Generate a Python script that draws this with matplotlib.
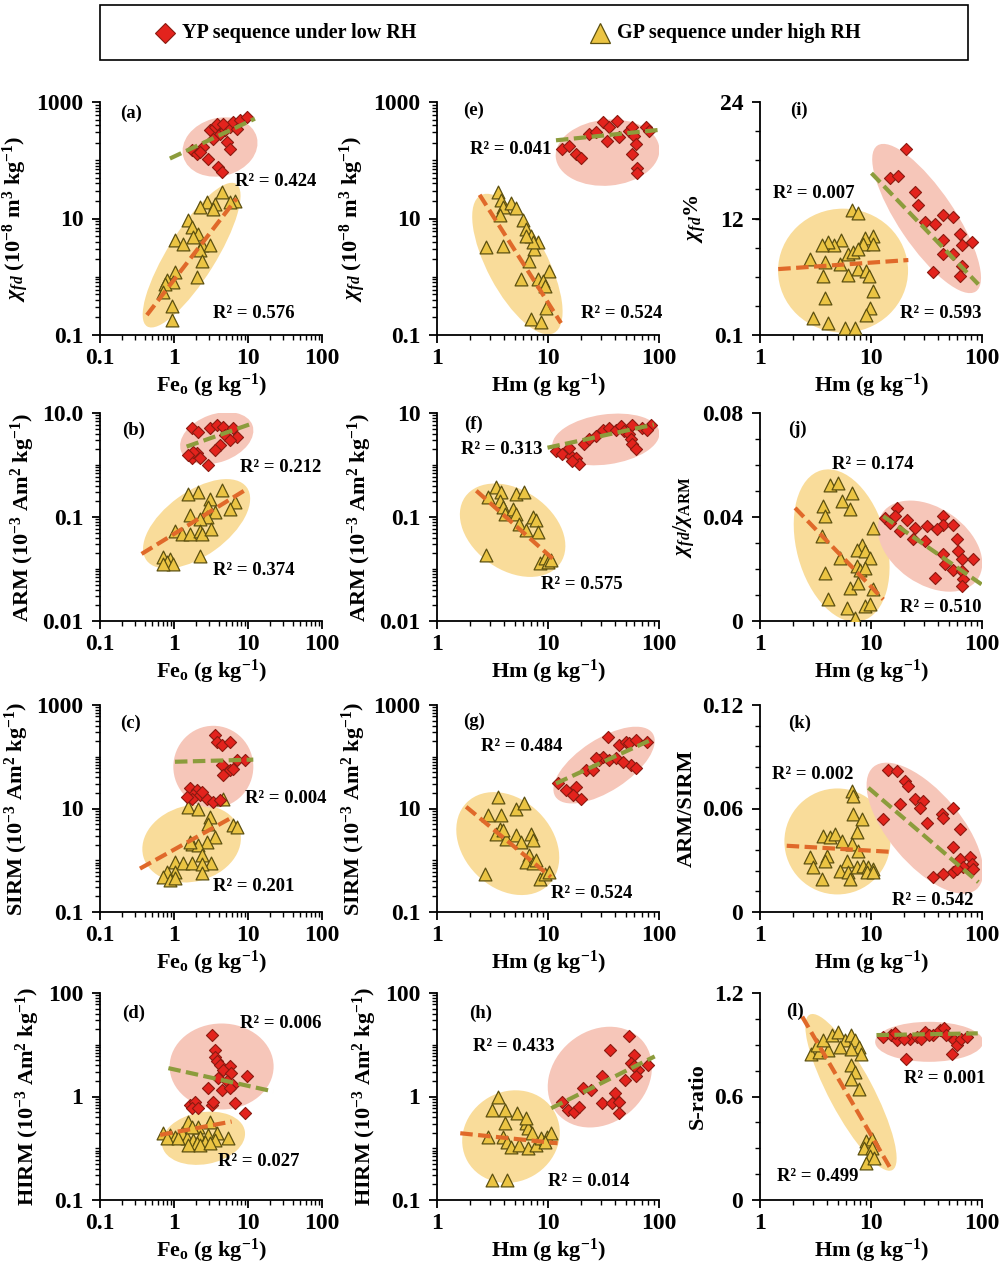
"""
plot.py

Twelve-panel scatter comparison of magnetic parameters vs Fe oxides
for the YP (low RH) and GP (high RH) sequences.
Writes out.png.
"""

import matplotlib
matplotlib.use("Agg")
import matplotlib.pyplot as plt
import matplotlib.transforms as mtransforms
import numpy as np
from matplotlib.lines import Line2D
from matplotlib.patches import Ellipse, Rectangle
from matplotlib.ticker import FixedLocator, FixedFormatter, LogLocator, NullFormatter

plt.rcParams["font.family"] = ["Liberation Serif", "DejaVu Serif"]
plt.rcParams["font.weight"] = "bold"
plt.rcParams["axes.labelweight"] = "bold"
plt.rcParams["mathtext.fontset"] = "custom"
plt.rcParams["mathtext.rm"] = "Liberation Serif:bold"
plt.rcParams["mathtext.it"] = "Liberation Serif:italic:bold"
plt.rcParams["mathtext.bf"] = "Liberation Serif:bold"

# ---------------------------------------------------------------- data
# (a) chi_fd vs Feo
a_yp_x = [1.73, 2.02, 2.91, 3.97, 4.4, 3.06, 3.58, 3.78, 4.2, 4.9, 5.7, 6.3, 7.8, 9.6, 5.2, 5.7, 3.4, 2.5, 2.24, 4.65, 7.0]
a_yp_y = [148, 130, 107, 77, 63, 327, 373, 425, 286, 327, 373, 454, 485, 553, 206, 158, 235, 169, 139, 425, 349]
a_gp_x = [4.4, 2.76, 3.58, 6.7, 5.7, 2.24, 3.4, 1.56, 1.73, 2.13, 1.82, 1.03, 1.34, 2.37, 3.06, 2.24, 2.37, 2.02, 1.03, 0.80, 0.98, 0.76, 0.72, 0.93, 0.93]
a_gp_y = [28, 19.3, 18, 20, 19.3, 15.8, 14.8, 9.4, 7.2, 5.5, 4.9, 4.3, 3.7, 3.5, 3.5, 2.9, 1.9, 1.0, 1.2, 0.88, 0.82, 0.76, 0.55, 0.31, 0.18]
a_yp_fit = ([0.88, 12.4], [107, 518])
a_gp_fit = ([0.43, 7.0], [0.22, 22])
a_r2 = ("0.424", "0.576")

# (b) ARM vs Feo
b_yp_x = [1.73, 2.13, 3.06, 3.78, 4.65, 4.9, 6.3, 7.0, 5.7, 4.2, 3.58, 2.02, 1.73, 2.24, 1.82, 2.91, 1.56]
b_yp_y = [5.1, 4.4, 5.1, 5.9, 5.5, 3.8, 5.1, 3.5, 3.05, 2.44, 1.95, 1.68, 1.35, 1.35, 1.81, 1.0, 1.56]
b_gp_x = [2.13, 1.56, 3.06, 4.4, 6.67, 5.7, 2.91, 3.58, 1.64, 2.76, 2.24, 1.03, 1.27, 1.64, 2.24, 2.37, 3.2, 0.72, 0.88, 0.80, 0.98, 2.24, 0.72]
b_gp_y = [0.305, 0.283, 0.226, 0.328, 0.195, 0.145, 0.156, 0.125, 0.108, 0.1, 0.093, 0.055, 0.0475, 0.0475, 0.055, 0.0475, 0.059, 0.0168, 0.0156, 0.0135, 0.0125, 0.018, 0.0125]
b_yp_fit = ([1.48, 11.8], [2.26, 6.4])
b_gp_fit = ([0.365, 9.1], [0.0195, 0.328])
b_r2 = ("0.212", "0.374")

# (c) SIRM vs Feo
c_yp_x = [3.58, 3.78, 4.4, 5.7, 7.0, 9.1, 4.4, 5.7, 4.65, 6.3, 1.64, 2.02, 1.82, 2.24, 2.76, 1.73, 3.4, 4.2, 2.37, 1.48]
c_yp_y = [262, 195, 168, 195, 86, 86, 69, 55, 44, 59, 24.4, 22.6, 18.1, 18.1, 15.6, 15.6, 13.5, 14.5, 21, 16.8]
c_gp_x = [4.64, 1.56, 2.13, 3.06, 2.91, 6.34, 7.0, 3.58, 2.76, 1.73, 2.13, 1.64, 2.37, 1.03, 1.34, 1.73, 3.2, 2.37, 1.03, 2.37, 0.8, 0.72, 0.88, 1.03]
c_gp_y = [15.6, 10.8, 10, 6.9, 5.1, 4.75, 4.4, 2.83, 2.26, 2.1, 1.95, 2.26, 1.25, 0.93, 0.9, 0.87, 0.87, 0.84, 0.59, 0.56, 0.59, 0.48, 0.41, 0.45]
c_yp_fit = ([1.03, 11.8], [80, 88])
c_gp_fit = ([0.347, 5.7], [0.69, 6.4])
c_r2 = ("0.004", "0.201")

# (d) HIRM vs Feo
d_yp_x = [3.24, 3.58, 3.58, 3.78, 4.2, 5.7, 4.65, 5.9, 3.97, 5.2, 6.3, 9.6, 2.91, 4.4, 5.7, 6.67, 9.1, 1.64, 1.93, 1.73, 3.24, 3.4, 2.13]
d_yp_y = [15.6, 8.0, 5.9, 4.75, 4.1, 3.8, 3.28, 2.83, 2.26, 1.95, 1.68, 2.44, 1.45, 1.35, 1.45, 0.74, 0.475, 0.69, 0.8, 0.594, 0.69, 0.8, 0.594]
d_gp_x = [1.56, 3.06, 2.13, 0.72, 0.88, 1.03, 0.80, 1.27, 1.48, 1.82, 2.24, 2.91, 3.78, 5.4, 3.58, 2.6, 2.02, 1.56, 2.24, 3.06, 1.73, 1.15]
d_gp_y = [0.328, 0.328, 0.262, 0.195, 0.181, 0.168, 0.156, 0.195, 0.156, 0.145, 0.168, 0.181, 0.195, 0.156, 0.145, 0.135, 0.125, 0.116, 0.116, 0.125, 0.262, 0.156]
d_yp_fit = ([0.84, 22], [3.53, 1.25])
d_gp_fit = ([0.65, 6.0], [0.181, 0.328])
d_r2 = ("0.006", "0.027")

# (e) chi_fd vs Hm
e_yp_x = [13.5, 15.5, 17.8, 19.8, 23.5, 27, 31, 35.6, 42, 34, 43.7, 53.8, 57.6, 59.6, 61.7, 57.6, 63.9, 64, 76, 81]
e_yp_y = [154, 176, 126, 110, 281, 300, 449, 367, 480, 215, 246, 321, 367, 263, 188, 126, 74, 61, 367, 321]
e_gp_x = [3.53, 3.78, 3.9, 3.7, 4.65, 5.2, 5.9, 6.3, 7.0, 8.1, 7.5, 6.8, 5.7, 8.1, 10.3, 9.0, 9.3, 9.6, 7.0, 8.65, 2.77, 3.9, 7.3, 6.3]
e_gp_y = [29, 20.8, 16, 11.4, 18.2, 14.9, 9.4, 6.7, 5.1, 3.9, 3.0, 1.9, 0.91, 0.91, 1.26, 0.85, 0.69, 0.29, 0.19, 0.17, 3.2, 3.4, 3.9, 5.1]
e_yp_fit = ([11.8, 97], [220, 330])
e_gp_fit = ([2.42, 13.1], [25.5, 0.16])
e_r2 = ("0.041", "0.524")

# (f) ARM vs Hm
f_yp_x = [11.8, 13.5, 16.1, 17.8, 19.1, 16.6, 15.5, 21.2, 23.5, 27, 31, 35.6, 40.8, 45.3, 48.5, 53.8, 57.6, 55.7, 57.6, 61.7, 70.8, 84, 78.5]
f_yp_y = [1.86, 1.61, 1.5, 1.39, 1.04, 1.2, 2.15, 2.5, 3.1, 3.6, 4.8, 5.2, 4.8, 5.6, 4.5, 3.9, 6.0, 3.1, 2.5, 2.0, 5.2, 6.0, 4.8]
f_gp_x = [3.41, 2.87, 3.78, 5.16, 6.1, 3.66, 3.92, 4.06, 4.8, 5.16, 7.3, 7.8, 5.53, 6.35, 8.07, 2.77, 8.4, 9.3, 9.9, 10.6]
f_gp_y = [0.373, 0.24, 0.3, 0.278, 0.3, 0.207, 0.155, 0.116, 0.144, 0.116, 0.1, 0.0865, 0.0747, 0.0557, 0.0518, 0.0186, 0.0129, 0.0161, 0.0139, 0.015]
f_yp_fit = ([9.9, 90], [2.15, 6.0])
f_gp_fit = ([2.26, 11.8], [0.32, 0.0139])
f_r2 = ("0.313", "0.575")

# (g) SIRM vs Hm
g_yp_x = [12.2, 14.5, 17.8, 16.7, 19.8, 21.9, 25.2, 28.9, 31, 35.6, 40.8, 34.4, 43.7, 50.2, 53.8, 61.7, 78.5, 55.7, 61.7, 46.9, 27]
g_yp_y = [30.5, 22.6, 26, 18.1, 15.6, 55, 55, 86, 100, 86, 95, 244, 168, 195, 181, 210, 195, 69, 60, 80, 93]
g_gp_x = [3.53, 2.87, 3.78, 5.16, 6.13, 3.66, 3.41, 4.2, 3.92, 5.16, 5.7, 7.0, 7.3, 6.8, 6.35, 7.3, 7.8, 2.68, 8.4, 9.3, 10.3]
g_gp_y = [16.8, 7.4, 7.4, 10, 12.5, 4.1, 3.28, 2.62, 3.8, 3.05, 2.27, 3.28, 2.44, 1.25, 0.93, 0.87, 1.0, 0.55, 0.44, 0.55, 0.58]
g_yp_fit = ([11.8, 84], [30.5, 210])
g_gp_fit = ([1.83, 10.6], [10.8, 0.475])
g_r2 = ("0.484", "0.524")

# (h) HIRM vs Hm
h_yp_x = [13.3, 15.2, 17.3, 18.9, 20.6, 24.6, 30.6, 36.5, 39.8, 30.6, 38.1, 43.5, 43.5, 54, 59, 56.5, 64.5, 61.7, 49.5, 80, 59]
h_yp_y = [0.8, 0.55, 0.51, 0.64, 1.45, 1.35, 2.44, 8.0, 1.16, 0.74, 0.74, 0.8, 0.475, 14.5, 6.4, 4.4, 3.28, 2.44, 2.1, 4.1, 3.8]
h_gp_x = [3.57, 3.13, 4.07, 5.3, 4.07, 2.87, 3.9, 4.26, 4.64, 5.53, 6.3, 6.6, 7.2, 6.6, 7.86, 8.6, 9.8, 10.7, 9.4, 3.13, 4.26, 6.3]
h_gp_y = [1.0, 0.55, 0.55, 0.475, 0.305, 0.168, 0.168, 0.135, 0.108, 0.116, 0.305, 0.244, 0.195, 0.1, 0.116, 0.156, 0.168, 0.195, 0.135, 0.0244, 0.0244, 0.381]
h_yp_fit = ([10.7, 91.5], [0.594, 5.95])
h_gp_fit = ([1.62, 12.2], [0.195, 0.125])
h_r2 = ("0.433", "0.014")

# (i) chi_fd% vs Hm
i_yp_x = [20.7, 14.8, 17.6, 24.9, 26.7, 30.6, 37.7, 44.9, 55.2, 63.4, 44.9, 80.7, 44.9, 55.2, 65.6, 65.6, 63.4, 36.4]
i_yp_y = [19.15, 16.2, 16.4, 14.8, 13.4, 11.7, 11.5, 12.4, 12.2, 10.5, 9.8, 9.6, 8.4, 8.4, 9.3, 7.2, 6.16, 6.6]
i_gp_x = [6.7, 7.7, 10.5, 8.8, 8.5, 10.5, 5.4, 4.6, 4.1, 3.6, 6.25, 6.9, 7.7, 2.8, 3.85, 3.7, 6.25, 7.7, 9.1, 9.5, 5.3, 10.5, 3.85, 9.8, 9.1, 3.0, 4.1, 5.8, 7.2]
i_gp_y = [12.9, 12.57, 10.3, 10.0, 9.45, 9.45, 9.8, 9.3, 9.6, 9.3, 8.4, 8.6, 8.9, 7.9, 7.55, 6.16, 6.3, 6.85, 6.7, 6.16, 7.4, 4.6, 3.9, 2.87, 2.18, 1.83, 1.31, 0.79, 0.79]
i_yp_fit = ([10.1, 92.7], [16.7, 5.3])
i_gp_fit = ([1.46, 21.7], [6.86, 7.79])
i_r2 = ("0.593", "0.007")

# (j) chi_fd/chi_ARM vs Hm
j_yp_x = [13.4, 14.8, 17.0, 16.5, 18.2, 21, 24.9, 30.6, 31.7, 44.9, 44.9, 55.2, 39, 37.7, 44.9, 46.4, 55.2, 61.2, 65.6, 65.6, 67.9, 65.6, 83.5, 59, 24]
j_yp_y = [0.0397, 0.0378, 0.0435, 0.0403, 0.0346, 0.039, 0.0358, 0.0307, 0.0365, 0.0403, 0.0371, 0.0371, 0.0352, 0.0166, 0.0256, 0.0218, 0.0198, 0.0269, 0.0237, 0.0192, 0.016, 0.0134, 0.0237, 0.0314, 0.0314]
j_gp_x = [4.27, 5.08, 6.7, 5.44, 6.47, 3.72, 3.85, 3.59, 10.5, 8.24, 7.43, 8.83, 5.26, 9.8, 7.43, 7.96, 8.83, 3.85, 6.47, 7.69, 10.5, 4.13, 6.04, 8.83, 9.8, 7.18]
j_gp_y = [0.0525, 0.0531, 0.0493, 0.0461, 0.0429, 0.0442, 0.0403, 0.0326, 0.0358, 0.0294, 0.0275, 0.0269, 0.0243, 0.0243, 0.0211, 0.0198, 0.0205, 0.0186, 0.0128, 0.0147, 0.0122, 0.0083, 0.0051, 0.0058, 0.0064, 0.0013]
j_yp_fit = ([12.9, 99], [0.0403, 0.0141])
j_gp_fit = ([2.07, 12.9], [0.0435, 0.0083])
j_r2 = ("0.510", "0.174")

# (k) ARM/SIRM vs Hm
k_yp_x = [14.3, 17.0, 20.2, 21.7, 18.2, 24.9, 29.6, 27.6, 31.7, 43.3, 44.9, 55.2, 63.4, 55.2, 63.4, 78, 80.7, 67.9, 55.2, 44.9, 36.4, 59.2, 83.5, 12.9]
k_yp_y = [0.0826, 0.0816, 0.0758, 0.073, 0.0624, 0.0653, 0.0643, 0.0605, 0.0518, 0.0566, 0.0547, 0.0605, 0.048, 0.0374, 0.0307, 0.0317, 0.0278, 0.0259, 0.023, 0.022, 0.0202, 0.025, 0.025, 0.0538]
k_gp_x = [6.7, 6.93, 6.93, 8.24, 7.43, 3.72, 4.27, 4.74, 5.44, 6.7, 7.69, 2.82, 3.99, 3.85, 3.02, 6.04, 5.26, 6.25, 7.43, 8.53, 9.47, 10.5, 9.14, 6.47, 3.59, 10.5]
k_gp_y = [0.0701, 0.0672, 0.0566, 0.0538, 0.0461, 0.0442, 0.0432, 0.0451, 0.0413, 0.0394, 0.0355, 0.0317, 0.0326, 0.0298, 0.0259, 0.0298, 0.024, 0.023, 0.0259, 0.0269, 0.0259, 0.025, 0.023, 0.0192, 0.0192, 0.023]
k_yp_fit = ([9.47, 92.7], [0.072, 0.0173])
k_gp_fit = ([1.74, 14.8], [0.0384, 0.0349])
k_r2 = ("0.542", "0.002")

# (l) S-ratio vs Hm
l_yp_x = [12.7, 15.2, 17.3, 20.6, 22.5, 25.7, 30.6, 36.5, 41.6, 45.4, 47.4, 56.5, 59, 54, 64.5, 73.6, 28, 33, 16.6, 20]
l_yp_y = [0.946, 0.956, 0.927, 0.819, 0.936, 0.946, 0.976, 0.956, 0.985, 0.995, 0.956, 0.927, 0.897, 0.849, 0.936, 0.946, 0.936, 0.956, 0.966, 0.936]
l_gp_x = [2.87, 3.42, 4.07, 3.27, 3.73, 4.44, 5.07, 5.78, 6.6, 7.2, 7.86, 8.2, 6.6, 5.3, 6.6, 7.2, 6.6, 7.86, 8.96, 10.2, 8.58, 10.2, 9.78, 8.96, 10.6]
l_gp_y = [0.849, 0.858, 0.868, 0.897, 0.927, 0.956, 0.976, 0.927, 0.956, 0.927, 0.888, 0.849, 0.878, 0.888, 0.78, 0.741, 0.702, 0.644, 0.341, 0.351, 0.302, 0.302, 0.254, 0.215, 0.244]
l_yp_fit = ([11.2, 91.6], [0.956, 0.966])
l_gp_fit = ([2.4, 15.2], [1.063, 0.176])
l_r2 = ("0.001", "0.499")

legend_labels = ["YP sequence under low RH", "GP sequence under high RH"]

# ---------------------------------------------------------------- style
W, H, DPI = 1001, 1267, 100
YP_FACE, YP_EDGE = "#E3231D", "#8A1A10"
GP_FACE, GP_EDGE = "#EBC443", "#5C5010"
YP_ELL, GP_ELL = "#F6C6B9", "#F9DC9A"
YP_LINE, GP_LINE = "#8C9C3C", "#E0692A"

COL_LEFT = [100, 437, 760]
COL_W = 222
ROW_TOP = [102, 413, 705, 993]
ROW_BOT = [335, 621, 912, 1200]

UNIT3 = r" (10$^{-3}$ Am$^{2}$ kg$^{-1}$)"
CHI = r"$\chi_{fd}$"

LOG_A = ("log", 0.1, 1000, [0.1, 10, 1000], ["0.1", "10", "1000"])
LOG_D = ("log", 0.01, 100, [0.01, 1, 100], ["0.1", "1", "100"])

# panel layout: ellipses are (center x, center y, half axes in px, angle)
PANELS = [
    dict(tag="(a)", row=0, col=0, data=(a_yp_x, a_yp_y, a_gp_x, a_gp_y, a_yp_fit, a_gp_fit, a_r2),
         ylabel=CHI + r" (10$^{-8}$ m$^{3}$ kg$^{-1}$)", yax=LOG_A,
         ell_yp=(4.19, 169, 38, 29, 15), ell_gp=(1.73, 2.35, 84, 24, 58),
         txt_yp=(0.608, 0.657), txt_gp=(0.51, 0.093), tag_pos=(0.09, 0.95)),
    dict(tag="(b)", row=1, col=0, data=(b_yp_x, b_yp_y, b_gp_x, b_gp_y, b_yp_fit, b_gp_fit, b_r2),
         ylabel="ARM" + UNIT3, yax=("log", 0.001, 10, [0.001, 0.1, 10], ["0.01", "0.1", "10.0"]),
         ell_yp=(3.78, 3.28, 38, 24, 20), ell_gp=(2.02, 0.074, 62, 32, 36),
         txt_yp=(0.63, 0.739), txt_gp=(0.51, 0.242), tag_pos=(0.098, 0.919)),
    dict(tag="(c)", row=2, col=0, data=(c_yp_x, c_yp_y, c_gp_x, c_gp_y, c_yp_fit, c_gp_fit, c_r2),
         ylabel="SIRM" + UNIT3, yax=LOG_A,
         ell_yp=(3.4, 64, 40, 41, 0), ell_gp=(1.73, 2.1, 50, 38, 15),
         txt_yp=(0.653, 0.548), txt_gp=(0.51, 0.121), tag_pos=(0.09, 0.911)),
    dict(tag="(d)", row=3, col=0, data=(d_yp_x, d_yp_y, d_gp_x, d_gp_y, d_yp_fit, d_gp_fit, d_r2),
         ylabel="HIRM" + UNIT3, yax=LOG_D,
         ell_yp=(4.4, 3.8, 52, 43, 0), ell_gp=(2.5, 0.156, 42, 26, 10),
         txt_yp=(0.63, 0.855), txt_gp=(0.533, 0.185), tag_pos=(0.098, 0.903)),
    dict(tag="(e)", row=0, col=1, data=(e_yp_x, e_yp_y, e_gp_x, e_gp_y, e_yp_fit, e_gp_fit, e_r2),
         ylabel=CHI + r" (10$^{-8}$ m$^{3}$ kg$^{-1}$)", yax=LOG_A,
         ell_yp=(34.4, 135, 52, 33, 5), ell_gp=(5.3, 1.65, 78, 30, -62),
         txt_yp=(0.147, 0.797), txt_gp=(0.648, 0.094), tag_pos=(0.117, 0.964)),
    dict(tag="(f)", row=1, col=1, data=(f_yp_x, f_yp_y, f_gp_x, f_gp_y, f_yp_fit, f_gp_fit, f_r2),
         ylabel="ARM" + UNIT3, yax=("log", 0.001, 10, [0.001, 0.1, 10], ["0.01", "0.1", "10"]),
         ell_yp=(33.2, 3.1, 54, 25, 8), ell_gp=(4.8, 0.0557, 58, 40, -35),
         txt_yp=(0.109, 0.825), txt_gp=(0.469, 0.175), tag_pos=(0.124, 0.944)),
    dict(tag="(g)", row=2, col=1, data=(g_yp_x, g_yp_y, g_gp_x, g_gp_y, g_yp_fit, g_gp_fit, g_r2),
         ylabel="SIRM" + UNIT3, yax=LOG_A,
         ell_yp=(32, 69, 58, 26, 33), ell_gp=(4.34, 2.1, 58, 44, -45),
         txt_yp=(0.199, 0.798), txt_gp=(0.513, 0.089), tag_pos=(0.117, 0.919)),
    dict(tag="(h)", row=3, col=1, data=(h_yp_x, h_yp_y, h_gp_x, h_gp_y, h_yp_fit, h_gp_fit, h_r2),
         ylabel="HIRM" + UNIT3, yax=LOG_D,
         ell_yp=(29.3, 2.37, 56, 46, 40), ell_gp=(4.64, 0.168, 50, 45, 30),
         txt_yp=(0.164, 0.742), txt_gp=(0.50, 0.089), tag_pos=(0.145, 0.903)),
    dict(tag="(i)", row=0, col=2, data=(i_yp_x, i_yp_y, i_gp_x, i_gp_y, i_yp_fit, i_gp_fit, i_r2),
         ylabel=CHI + "%", yax=("lin", 0.1, 24, [0.1, 12, 24], ["0.1", "12", "24"], (24 - 0.1) / 8),
         ell_yp=(31.7, 12.05, 88, 28, -56), ell_gp=(5.6, 6.7, 65, 62, 0),
         txt_yp=(0.63, 0.094), txt_gp=(0.06, 0.609), tag_pos=(0.135, 0.964)),
    dict(tag="(j)", row=1, col=2, data=(j_yp_x, j_yp_y, j_gp_x, j_gp_y, j_yp_fit, j_gp_fit, j_r2),
         ylabel=r"$\chi_{fd}$/$\chi_{\rm ARM}$", yax=("lin", 0, 0.08, [0, 0.04, 0.08], ["0", "0.04", "0.08"], 0.01),
         ell_yp=(34, 0.0288, 58, 38, -35), ell_gp=(5.44, 0.029, 78, 45, -75),
         txt_yp=(0.63, 0.064), txt_gp=(0.323, 0.752), tag_pos=(0.128, 0.92)),
    dict(tag="(k)", row=2, col=2, data=(k_yp_x, k_yp_y, k_gp_x, k_gp_y, k_yp_fit, k_gp_fit, k_r2),
         ylabel="ARM/SIRM", yax=("lin", 0, 0.12, [0, 0.06, 0.12], ["0", "0.06", "0.12"], 0.012),
         ell_yp=(30.6, 0.0486, 80, 36, -50), ell_gp=(4.98, 0.0409, 53, 53, 0),
         txt_yp=(0.593, 0.056), txt_gp=(0.053, 0.664), tag_pos=(0.128, 0.912)),
    dict(tag="(l)", row=3, col=2, data=(l_yp_x, l_yp_y, l_gp_x, l_gp_y, l_yp_fit, l_gp_fit, l_r2),
         ylabel="S-ratio", yax=("lin", 0, 1.2, [0, 0.6, 1.2], ["0", "0.6", "1.2"], 0.15),
         ell_yp=(33.4, 0.917, 54, 20, 0), ell_gp=(6.6, 0.624, 88, 22, -62),
         txt_yp=(0.65, 0.585), txt_gp=(0.077, 0.114), tag_pos=(0.116, 0.91)),
]

TICK_FS, LABEL_FS, R2_FS, TAG_FS = 17, 16, 13.5, 13.5


def add_ellipse(fig, ax, spec, color):
    cx, cy, a, b, ang = spec
    trans = fig.dpi_scale_trans + mtransforms.ScaledTranslation(cx, cy, ax.transData)
    ax.add_patch(Ellipse((0, 0), 2 * a / DPI, 2 * b / DPI, angle=ang, transform=trans,
                         facecolor=color, edgecolor="none", zorder=1))


def setup_axes(ax, p):
    ax.set_xscale("log")
    if p["col"] == 0:
        ax.set_xlim(0.1, 100)
        xt = [0.1, 1, 10, 100]
    else:
        ax.set_xlim(1, 100)
        xt = [1, 10, 100]
    ax.xaxis.set_major_locator(FixedLocator(xt))
    ax.xaxis.set_major_formatter(FixedFormatter(["%g" % v for v in xt]))
    ax.xaxis.set_minor_locator(LogLocator(base=10, subs=np.arange(2, 10), numticks=20))
    ax.xaxis.set_minor_formatter(NullFormatter())

    yax = p["yax"]
    if yax[0] == "log":
        _, lo, hi, ticks, labels = yax
        ax.set_yscale("log")
        ax.set_ylim(lo, hi)
        ax.yaxis.set_minor_locator(LogLocator(base=10, subs=np.arange(1, 10), numticks=30))
    else:
        _, lo, hi, ticks, labels, step = yax
        ax.set_ylim(lo, hi)
        ax.yaxis.set_minor_locator(FixedLocator(np.arange(lo, hi + step / 2, step)))
    ax.yaxis.set_major_locator(FixedLocator(ticks))
    ax.yaxis.set_major_formatter(FixedFormatter(labels))
    ax.yaxis.set_minor_formatter(NullFormatter())

    for side in ("top", "right"):
        ax.spines[side].set_visible(False)
    for side in ("left", "bottom"):
        ax.spines[side].set_linewidth(1.3)
    ax.tick_params(which="major", direction="out", length=6, width=1.3, labelsize=TICK_FS)
    ax.tick_params(axis="y", which="major", pad=6)
    ax.tick_params(which="minor", direction="out", length=3.5, width=1.0)
    ax.patch.set_alpha(0)

    xl = r"Fe$_{\rm o}$ (g kg$^{-1}$)" if p["col"] == 0 else r"Hm (g kg$^{-1}$)"
    ax.set_xlabel(xl, fontsize=LABEL_FS, labelpad=2)
    ax.set_ylabel(p["ylabel"], fontsize=LABEL_FS, labelpad=4)


def main():
    fig = plt.figure(figsize=(W / DPI, H / DPI), dpi=DPI)

    for p in PANELS:
        r, c = p["row"], p["col"]
        rect = [COL_LEFT[c] / W, 1 - ROW_BOT[r] / H, COL_W / W, (ROW_BOT[r] - ROW_TOP[r]) / H]
        ax = fig.add_axes(rect)
        setup_axes(ax, p)

        yp_x, yp_y, gp_x, gp_y, yp_fit, gp_fit, r2 = p["data"]
        add_ellipse(fig, ax, p["ell_gp"], GP_ELL)
        add_ellipse(fig, ax, p["ell_yp"], YP_ELL)

        ax.scatter(gp_x, gp_y, marker="^", s=85, c=GP_FACE, edgecolors=GP_EDGE,
                   linewidths=0.9, zorder=3)
        ax.scatter(yp_x, yp_y, marker="D", s=38, c=YP_FACE, edgecolors=YP_EDGE,
                   linewidths=0.8, zorder=3)
        ax.plot(*gp_fit, color=GP_LINE, lw=3, ls=(0, (3, 1.3)), zorder=4)
        ax.plot(*yp_fit, color=YP_LINE, lw=3, ls=(0, (3, 1.3)), zorder=4)

        ax.text(*p["txt_yp"], "R² = " + r2[0], transform=ax.transAxes, fontsize=R2_FS,
                ha="left", va="center", zorder=5)
        ax.text(*p["txt_gp"], "R² = " + r2[1], transform=ax.transAxes, fontsize=R2_FS,
                ha="left", va="center", zorder=5)
        ax.text(*p["tag_pos"], p["tag"], transform=ax.transAxes, fontsize=TAG_FS,
                ha="left", va="center", zorder=5)

    # legend box across the top
    fig.add_artist(Rectangle((100 / W, 1 - 60 / H), 868 / W, 55 / H, transform=fig.transFigure,
                             facecolor="white", edgecolor="black", lw=1.2))
    ly = 1 - 33 / H
    fig.add_artist(Line2D([165 / W], [ly], marker="D", ms=10, color=YP_FACE, mec=YP_EDGE,
                          mew=0.8, transform=fig.transFigure))
    fig.add_artist(Line2D([600 / W], [ly], marker="^", ms=15, color=GP_FACE, mec=GP_EDGE,
                          mew=0.9, transform=fig.transFigure))
    fig.text(182 / W, ly, legend_labels[0], fontsize=14.5, ha="left", va="center")
    fig.text(617 / W, ly, legend_labels[1], fontsize=14.5, ha="left", va="center")

    fig.savefig("out.png", dpi=DPI, facecolor="white")
    plt.close(fig)


if __name__ == "__main__":
    main()
